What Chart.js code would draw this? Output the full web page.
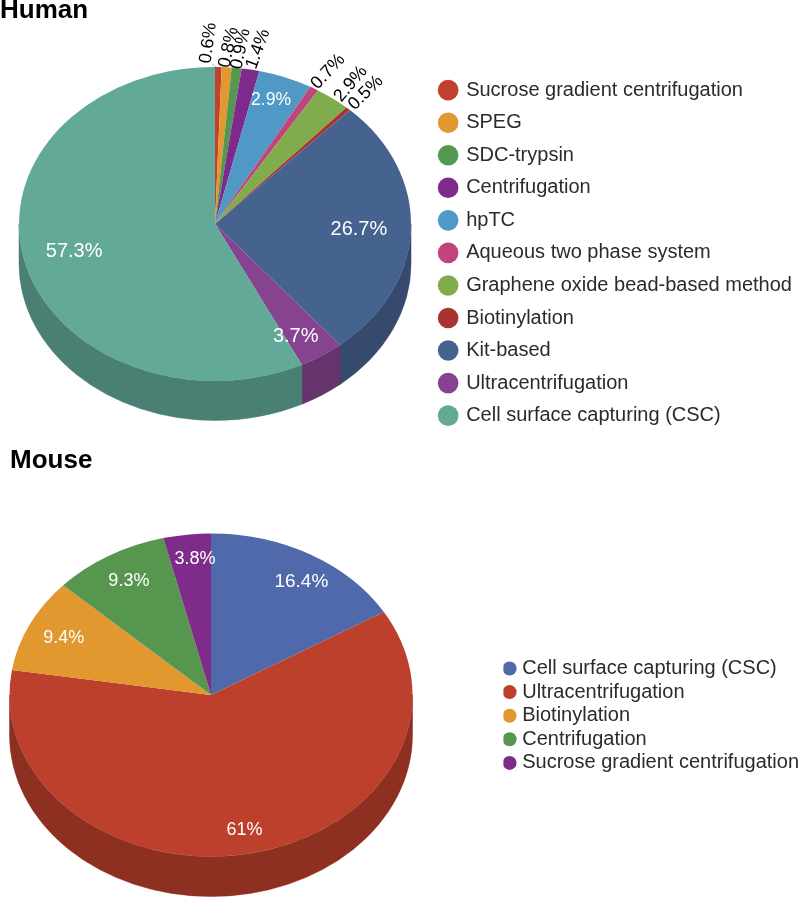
<!DOCTYPE html>
<html>
<head>
<meta charset="utf-8">
<title>Human and mouse pie charts</title>
<style>
html,body{margin:0;padding:0;background:#fff;overflow:hidden}
#h,#m{position:absolute;left:0;display:block}
</style>
<script src="https://cdn.jsdelivr.net/npm/chart.js@4"></script>
</head>
<body>
<canvas id="h" width="800" height="450" style="top:0;width:800px;height:450px"></canvas>
<canvas id="m" width="800" height="447" style="top:450px;width:800px;height:447px"></canvas>
<script>
const humanCategories = ['Sucrose gradient centrifugation','SPEG','SDC-trypsin','Centrifugation','hpTC','Aqueous two phase system','Graphene oxide bead-based method','Biotinylation','Kit-based','Ultracentrifugation','Cell surface capturing (CSC)'];
const humanShares = [0.54,0.82,0.81,1.46,4.45,0.72,2.9,0.38,26.9,3.7,57.3];
// percentages as printed on the slices
const humanPrinted = ['0.6%','0.8%','0.9%','1.4%','2.9%','0.7%','2.9%','0.5%','26.7%','3.7%','57.3%'];
const humanColors = ['#c2412d','#e2982e','#54984f','#7d2a8c','#5098c6','#c0457c','#80ac4e','#a83432','#46628f','#86438f','#62a998'];

const mouseCategories = ['Cell surface capturing (CSC)','Ultracentrifugation','Biotinylation','Centrifugation','Sucrose gradient centrifugation'];
const mouseShares = [16.4,61,9.4,9.3,3.8];
const mousePrinted = ['16.4%','61%','9.4%','9.3%','3.8%'];
const mouseColors = ['#4f69ab','#bc402c','#e0982f','#57964f','#7f2b8a'];

const FONT = "'Liberation Sans', Arial, sans-serif";

function shade(hex, f){
  const n = parseInt(hex.slice(1),16);
  const c = [n>>16, (n>>8)&255, n&255].map(v=>Math.round(v*f));
  return `rgb(${c[0]},${c[1]},${c[2]})`;
}

const pie3d = {
  id:'pie3d',
  afterLayout(chart, args, o){
    const r=o.r;
    const a=chart.chartArea;
    a.left=o.cx-r; a.right=o.cx+r; a.top=o.cy-r; a.bottom=o.cy+r; a.width=2*r; a.height=2*r;
    const t=chart.titleBlock; t.left=o.titleX; t.right=o.titleX+200; t.top=o.titleY;
    const l=chart.legend; const w=l.right-l.left, h=l.bottom-l.top;
    l.left=o.legendX; l.right=o.legendX+w; l.top=o.legendY; l.bottom=o.legendY+h;
  },
  beforeDatasetsDraw(chart, args, o){
    const ctx=chart.ctx, cx=o.cx, cy=o.cy, r=o.r, ry=o.ry;
    // side wall, built from each arc's own angles
    chart.getDatasetMeta(0).data.forEach((arc,i)=>{
      const s=Math.max(arc.startAngle,0), e=Math.min(arc.endAngle,Math.PI);
      if(e<=s) return;
      ctx.beginPath();
      ctx.ellipse(cx,cy,r,ry,0,s,e);
      ctx.ellipse(cx,cy+o.depth,r,ry,0,e,s,true);
      ctx.closePath();
      const c=shade(chart.data.datasets[0].backgroundColor[i],o.wall);
      ctx.fillStyle=c; ctx.strokeStyle=c; ctx.lineWidth=0.5;
      ctx.fill(); ctx.stroke();
    });
    ctx.save();
    ctx.translate(cx,cy); ctx.scale(1,ry/r); ctx.translate(-cx,-cy);
  },
  afterDatasetsDraw(chart, args, o){
    const ctx=chart.ctx;
    ctx.restore();
    chart.getDatasetMeta(0).data.forEach((arc,i)=>{
      const mid=(arc.startAngle+arc.endAngle)/2;
      const ex=o.cx+o.r*Math.cos(mid), ey=o.cy+o.ry*Math.sin(mid);
      const p=o.place[i];
      if(p.leader){
        ctx.strokeStyle='#777'; ctx.lineWidth=0.6;
        ctx.beginPath(); ctx.moveTo(ex-2.5,ey); ctx.lineTo(ex-6.5,ey-3.5); ctx.stroke();
      }
      ctx.save();
      ctx.translate(ex+p.dx,ey+p.dy);
      ctx.rotate((p.rot||0)*Math.PI/180);
      ctx.font=`${p.size}px ${FONT}`;
      ctx.fillStyle=p.color;
      ctx.textAlign='center'; ctx.textBaseline='middle';
      ctx.fillText(o.printed[i],0,0);
      ctx.restore();
    });
  }
};

function build(id, title, cats, shares, colors, printed, geom, legendPad, boxW, boxH){
  return new Chart(document.getElementById(id),{
    type:'pie',
    plugins:[pie3d],
    data:{labels:cats,datasets:[{data:shares,backgroundColor:colors,borderWidth:0,clip:false}]},
    options:{
      responsive:false,animation:false,
      rotation:0,
      plugins:{
        tooltip:{enabled:false},
        title:{display:true,text:title,align:'start',color:'#000',padding:0,
          font:{family:FONT,size:26,weight:'bold',lineHeight:1}},
        legend:{position:'right',align:'start',
          labels:{usePointStyle:true,pointStyle:'circle',boxWidth:boxW,boxHeight:boxH,padding:legendPad,
            color:'#2b2b2b',font:{family:FONT,size:20}}},
        pie3d:geom
      }
    }
  });
}

const W='#fff', K='#000';
build('h','Human',humanCategories,humanShares,humanColors,humanPrinted,{
  cx:215,cy:224,r:196,ry:157,depth:39.5,wall:0.76,
  titleX:0,titleY:-2,legendX:427.6,legendY:67.6,
  printed:humanPrinted,
  place:[
    {dx:-10,dy:-24,rot:-82,size:18,color:K,leader:true},
    {dx:2,dy:-20,rot:-78,size:18,color:K},
    {dx:4,dy:-19,rot:-78,size:18,color:K},
    {dx:7.5,dy:-20.5,rot:-70,size:18,color:K},
    {dx:-14.5,dy:23,size:17.5,color:W},
    {dx:14,dy:-17,rot:-47,size:18,color:K},
    {dx:18,dy:-14.5,rot:-50,size:18,color:K},
    {dx:17.5,dy:-16,rot:-45,size:18,color:K},
    {dx:-52,dy:0.5,size:20,color:W},
    {dx:-26,dy:-19,size:20,color:W},
    {dx:50,dy:-8,size:20,color:W}
  ]
},12.55,16,14.6);
build('m','Mouse',mouseCategories,mouseShares,mouseColors,mousePrinted,{
  cx:211,cy:245,r:201.5,ry:161.5,depth:40,wall:0.75,
  titleX:10,titleY:-2,legendX:503.4,legendY:204.9,
  printed:mousePrinted,
  place:[
    {dx:-9,dy:27,size:19,color:W},
    {dx:-5,dy:-24,size:18,color:W},
    {dx:34,dy:13.5,size:18,color:W},
    {dx:20,dy:25,size:18,color:W},
    {dx:8,dy:24,size:18,color:W}
  ]
},3.6,5.2,9.9);
</script>
</body>
</html>
